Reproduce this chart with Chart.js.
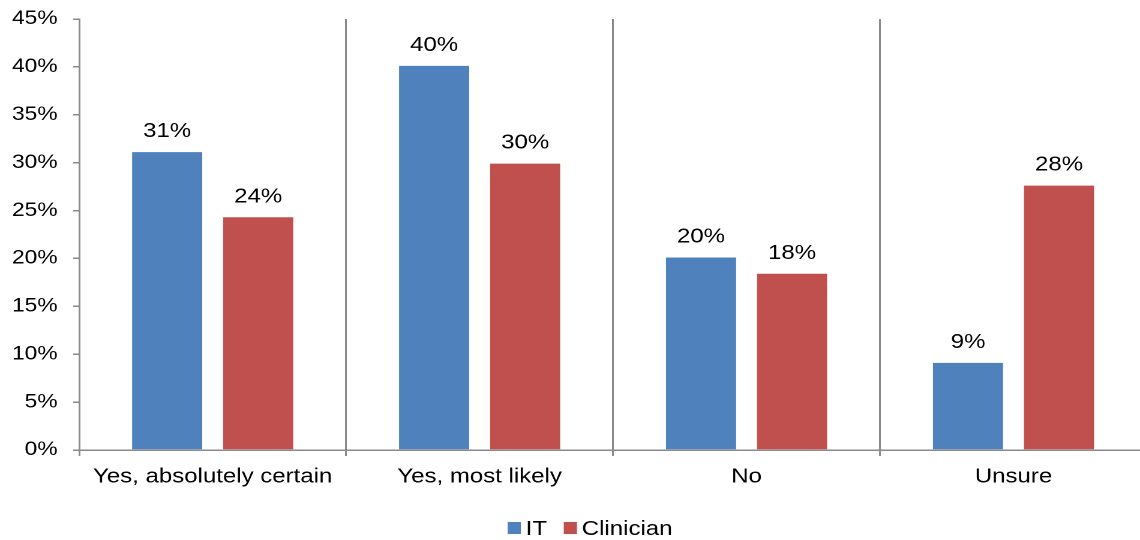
<!DOCTYPE html>
<html>
<head>
<meta charset="utf-8">
<script src="https://cdn.jsdelivr.net/npm/chart.js@4.4.1/dist/chart.umd.min.js"></script>
<style>
  html, body { margin: 0; padding: 0; background: #fff; overflow: hidden; }
  /* the chart is laid out narrow and widened horizontally */
  #wrap { width: 967px; height: 540px; transform: scaleX(1.2); transform-origin: 0 0; }
</style>
</head>
<body>
<div id="wrap"><canvas id="c" width="967" height="540"></canvas></div>
<script>
// Survey answers, share of respondents per group (%)
const categories = ['Yes, absolutely certain', 'Yes, most likely', 'No', 'Unsure'];
const itValues = [31.1, 40.1, 20.1, 9.1];
const clinicianValues = [24.3, 29.9, 18.4, 27.6];
const yTicks = [0, 5, 10, 15, 20, 25, 30, 35, 40, 45];

const FONT = { family: '"Liberation Sans", Arial, sans-serif', size: 20 };
const FONT_CSS = FONT.size + 'px ' + FONT.family;
const AXIS_GREY = '#8a8a8a';

// Percentage labels written above each bar
const barValueLabels = {
  id: 'barValueLabels',
  afterDatasetsDraw(chart) {
    const ctx = chart.ctx;
    ctx.save();
    ctx.font = FONT_CSS;
    ctx.fillStyle = '#000';
    ctx.textAlign = 'center';
    ctx.textBaseline = 'alphabetic';
    chart.data.datasets.forEach((ds, i) => {
      chart.getDatasetMeta(i).data.forEach((bar, j) => {
        ctx.fillText(Math.round(ds.data[j]) + '%', bar.x, bar.y - 15);
      });
    });
    ctx.restore();
  }
};

// Compact legend row under the axis: small square swatch, then the series name
const bottomLegend = {
  id: 'bottomLegend',
  afterDraw(chart) {
    const ctx = chart.ctx;
    const box = 11, boxH = 12, textGap = 4, itemGap = 14;
    ctx.save();
    ctx.font = FONT_CSS;
    const items = chart.data.datasets.map(ds => ({
      text: ds.label, color: ds.backgroundColor, w: ctx.measureText(ds.label).width
    }));
    const total = items.reduce((s, it) => s + box + textGap + it.w, 0) + itemGap * (items.length - 1);
    let x = 491.7 - total / 2;
    const baseline = 535;
    items.forEach(it => {
      ctx.fillStyle = it.color;
      ctx.fillRect(x, baseline - 13, box, boxH);
      x += box + textGap;
      ctx.fillStyle = '#000';
      ctx.textAlign = 'left';
      ctx.textBaseline = 'alphabetic';
      ctx.fillText(it.text, x, baseline);
      x += it.w + itemGap;
    });
    ctx.restore();
  }
};

new Chart(document.getElementById('c'), {
  type: 'bar',
  data: {
    labels: categories,
    datasets: [
      { label: 'IT', data: itValues, backgroundColor: '#4F81BD',
        categoryPercentage: 0.682, barPercentage: 0.77 },
      { label: 'Clinician', data: clinicianValues, backgroundColor: '#C0504D',
        categoryPercentage: 0.682, barPercentage: 0.77 }
    ]
  },
  options: {
    responsive: false,
    animation: false,
    devicePixelRatio: 2,
    layout: { padding: { top: 19, right: 11.2, left: 0, bottom: 42 } },
    plugins: {
      legend: { display: false },
      tooltip: { enabled: false }
    },
    scales: {
      x: {
        offset: true,
        grid: {
          offset: true, color: AXIS_GREY, lineWidth: 1.5,
          drawOnChartArea: true, drawTicks: true, tickLength: 6, tickColor: AXIS_GREY
        },
        border: { color: AXIS_GREY, width: 1.5 },
        ticks: { font: FONT, color: '#000', padding: 9, maxRotation: 0 }
      },
      y: {
        min: 0, max: 45,
        afterBuildTicks(axis) { axis.ticks = yTicks.map(v => ({ value: v })); },
        afterFit(axis) {
          axis.width = 66;
          axis.paddingTop = 0;
          axis.paddingBottom = 0;
        },
        grid: { drawOnChartArea: false, drawTicks: true, tickLength: 5, tickColor: AXIS_GREY, lineWidth: 1.5 },
        border: { color: AXIS_GREY, width: 1.5 },
        ticks: { font: { family: FONT.family, size: 19 }, color: '#000', padding: 13, callback: v => v + '%' }
      }
    }
  },
  plugins: [barValueLabels, bottomLegend]
});
</script>
</body>
</html>
